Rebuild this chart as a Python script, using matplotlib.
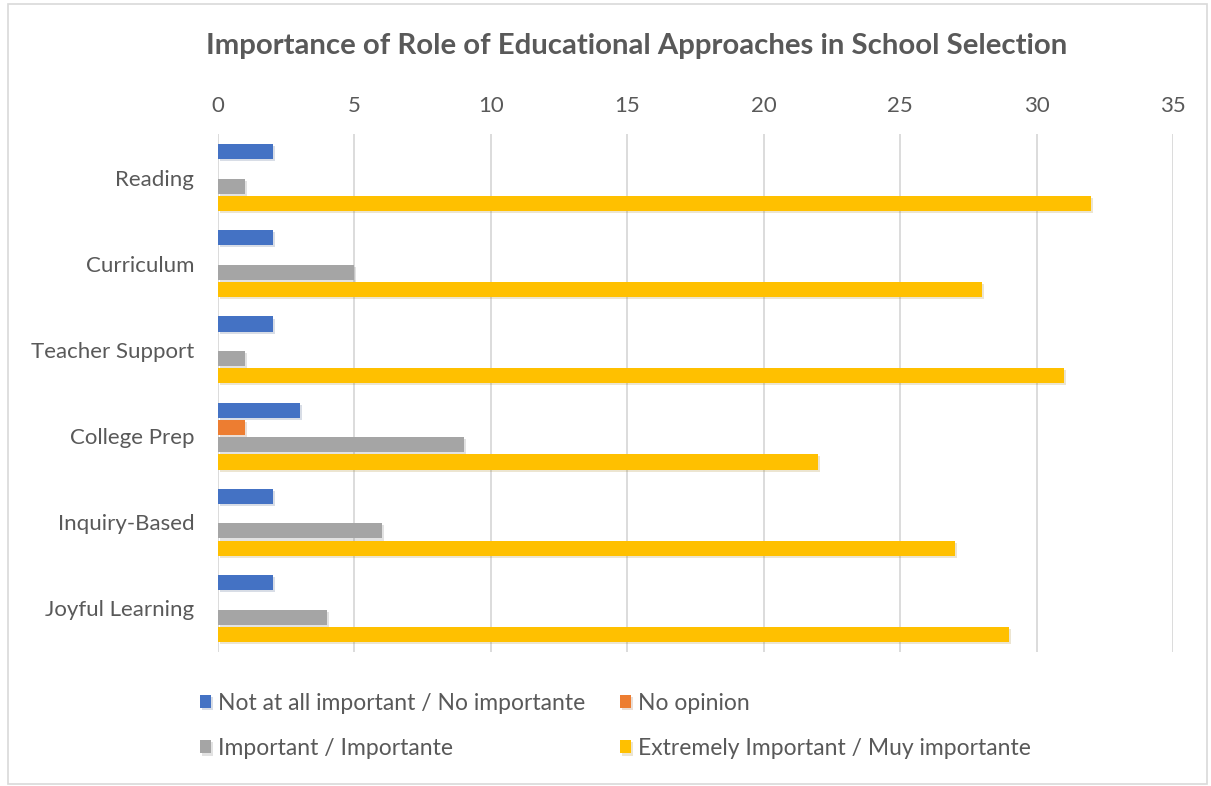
import numpy as np
import matplotlib
matplotlib.use("Agg")
import matplotlib.pyplot as plt
import matplotlib.patches as patches
import matplotlib.patheffects as pe

plt.rcParams['font.family'] = ['Lato', 'DejaVu Sans']

# survey counts per approach
categories = ['Reading', 'Curriculum', 'Teacher Support', 'College Prep',
              'Inquiry-Based', 'Joyful Learning']
not_important = [2, 2, 2, 3, 2, 2]
no_opinion = [0, 0, 0, 1, 0, 0]
important = [1, 5, 1, 9, 6, 4]
extremely = [32, 28, 31, 22, 27, 29]

series_names = ['Not at all important / No importante', 'No opinion',
                'Important / Importante', 'Extremely Important / Muy importante']
colors = ['#4472C4', '#ED7D31', '#A5A5A5', '#FFC000']
xticks = [0, 5, 10, 15, 20, 25, 30, 35]

txt = '#595959'

fig = plt.figure(figsize=(12.11, 7.86), dpi=100)
ax = fig.add_axes([0.18, 0.171, 0.7886, 0.658])

y = np.arange(len(categories))
step = 0.2
h = 0.175
shadow = [pe.SimplePatchShadow(offset=(1.5, -1.5), alpha=0.18, rho=0.6), pe.Normal()]
bars = []
for i, (vals, c) in enumerate(zip([not_important, no_opinion, important, extremely], colors)):
    b = ax.barh(y + (i - 1.5) * step, vals, height=h, color=c, zorder=3)
    for p in b:
        p.set_path_effects(shadow)
    bars.append(b)

ax.set_xlim(0, 35)
ax.set_ylim(len(categories) - 0.5, -0.5)
ax.set_xticks(xticks)
ax.set_yticks(y)
ax.set_yticklabels(categories)
ax.xaxis.tick_top()
ax.tick_params(axis='both', length=0, labelsize=16, colors=txt)
ax.tick_params(axis='x', pad=13)
ax.tick_params(axis='y', pad=17)
ax.grid(axis='x', color='#D9D9D9', lw=1.3, zorder=0)
for s in ax.spines.values():
    s.set_visible(False)

fig.text(0.5256, 0.942, 'Importance of Role of Educational Approaches in School Selection',
         ha='center', va='center', fontsize=21.2, fontweight='bold', color=txt)

# legend rows: blue/orange on top, gray/yellow below
order = [0, 2, 1, 3]
leg = fig.legend([bars[k] for k in order], [series_names[k] for k in order],
                 ncol=2, loc='center', bbox_to_anchor=(0.508, 0.0763),
                 frameon=False, fontsize=16.5, handlelength=0.5, handleheight=0.5,
                 handletextpad=0.3, columnspacing=1.5, labelspacing=1.05,
                 labelcolor=txt)

fig.patches.append(patches.Rectangle((0.007, 0.003), 0.99, 0.992, transform=fig.transFigure,
                                     fill=False, edgecolor='#D9D9D9', lw=1.2))

fig.savefig('out.png', dpi=100, facecolor='white')
